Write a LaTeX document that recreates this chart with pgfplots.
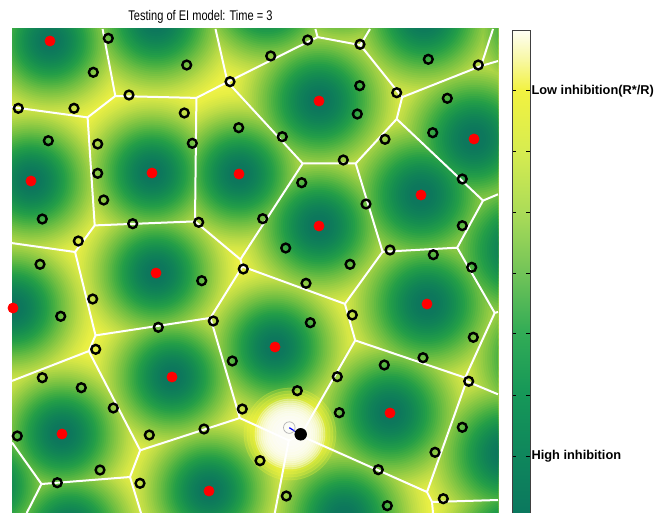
\documentclass[border=0pt]{standalone}
\usepackage{fontspec}
\setmainfont{Liberation Sans}
\usepackage{pgfplots}
\pgfplotsset{compat=1.18}
\usepackage{pgfplotstable}

\pgfplotsset{
  colormap={heat}{rgb255(0)=(12,117,93) rgb255(10)=(13,120,92) rgb255(18)=(16,129,88)
    rgb255(26)=(22,142,80) rgb255(34)=(36,158,72) rgb255(42)=(70,175,66)
    rgb255(50)=(112,191,66) rgb255(58)=(150,205,68) rgb255(66)=(185,218,70)
    rgb255(74)=(212,230,70) rgb255(82)=(232,239,68) rgb255(90)=(242,243,72)
    rgb255(100)=(247,247,90) rgb255(120)=(248,248,110)},
  colormap={cbar}{rgb255(0)=(11,120,94) rgb255(125)=(15,135,92) rgb255(250)=(22,152,88)
    rgb255(375)=(50,172,86) rgb255(500)=(115,196,88) rgb255(625)=(172,220,88)
    rgb255(750)=(215,236,80) rgb255(875)=(242,242,64) rgb255(940)=(248,248,165)
    rgb255(1000)=(255,255,245)},
}

% cell centres (visible ones first, then those lying just outside the frame);
% s = relative reach of each cell's inhibition
\pgfplotstableread{
x y s
50 41 1.0
319 101 1.08
474 139 1.12
31 181 1.0
152 173 1.0
239 174 1.0
421 195 1.12
319 226 1.05
156 273 1.0
13 308 1.0
427 304 1.1
275 347 1.0
172 377 1.0
390 413 1.08
62 434 1.0
209 491 1.0
156 21 1.05
267 -2 1.05
342 -22 1.0
424 17 1.08
545 25 1.1
70 530 1.0
-12 486 1.0
521 250 1.2
546 358 1.12
506 454 1.1
344 517 1.05
515 540 1.05
}\centers

\pgfplotstableread{
x y
50 41
319 101
474 139
31 181
152 173
239 174
421 195
319 226
156 273
13 308
427 304
275 347
172 377
390 413
62 434
209 491
}\reds

\pgfplotstableread{
x y
108.3 38.3
93.3 72.3
186.7 65
230 81.7
129 95
18.3 108.3
74 108.3
184.3 113
238.7 127.7
48.3 140.7
97.7 144
192.3 143.3
97.7 173.3
103.7 200
42.3 219
132.7 223.7
198.7 222.3
78.3 241
40 264.3
243.3 269
307.7 40
360 44.3
270.7 56
428.3 59.3
478.3 65
359.7 85.7
396.7 92.7
357.3 114
447.3 98.3
282.3 136.7
432.7 132.7
385 139.3
343.3 160
462.3 179
301.7 182.7
366 204
262.7 218.7
462.3 225.7
285.7 248
390 250
433.3 254.7
350 264.3
471.7 267.3
201.7 280.7
92.7 299
60.7 316.3
213.3 321
158.3 327.3
95.7 349.3
232.3 361
42.3 377.7
81.3 387.7
113.3 408
242.3 409
204 429
149.3 435
17.3 436
100 470
57.3 482.7
140 483.3
306 283.3
352.3 315
310.3 322.7
473.3 337.3
423 357.7
384.3 365
337.3 376.7
468.7 381.3
297.3 390.7
339.3 412.7
462.3 427.3
435 452.3
260 460.7
378.3 469.7
286.3 496
443.3 498.7
387.3 505.7
}\circles

\begin{document}
\begin{tikzpicture}
% ---------------- heat field (larger axis, clipped to the frame) -----------------
\begin{scope}
\clip (0,0) rectangle (243pt,242pt);
\begin{axis}[
  at={(-16pt,-18.5pt)}, anchor=south west,
  width=290pt, height=290pt, scale only axis,
  xmin=-20, xmax=560, ymin=-30, ymax=550, y dir=reverse,
  hide axis, clip marker paths=true,
  colormap name=heat, point meta min=0, point meta max=120,
]
\addplot[scatter, only marks, mark=*, mark size=150pt, point meta=120,
  scatter/use mapped color={draw=mapped color,fill=mapped color}] table[x=x,y=y] {\centers};
\pgfplotsinvokeforeach{120,118,...,2}{
  \addplot[scatter, only marks, mark=*, point meta=#1,
    visualization depends on={\thisrow{s}\as\sc},
    scatter/use mapped color={draw=mapped color,fill=mapped color},
    scatter/@pre marker code/.append style={/tikz/mark size={#1*\sc/2}}]
    table[x=x,y=y] {\centers};
}
% glow around the active cell
\pgfplotsinvokeforeach{23,21.5,20,18.5}{
  \addplot[only marks, mark=*, mark size=#1pt, color={rgb,255:red,246;green,246;blue,60},
    opacity=0.22] coordinates {(290,434)};
}
\pgfplotsinvokeforeach{17.5,16.5,15.5,14.5,13.5,12.5,11.5,10.5,9,7.5,6}{
  \addplot[only marks, mark=*, mark size=#1pt, color=white, opacity=0.26]
    coordinates {(290,434)};
}
\end{axis}
\end{scope}

% ---------------- overlay: edges, cells, colorbar -----------------
\begin{axis}[
  at={(0,0)}, anchor=south west,
  width=243pt, height=242pt, scale only axis,
  xmin=12, xmax=498, ymin=29, ymax=513, y dir=reverse,
  axis line style={draw=none}, xtick=\empty, ytick=\empty, clip=false,
  colormap name=cbar, point meta min=0, point meta max=100,
  colorbar,
  colorbar style={
    at={(parent axis.north east)}, anchor=north west, xshift=-1.54pt, yshift=-0.5pt,
    width=9pt, height=241.5pt, y dir=normal,
    ymin=0, ymax=100,
    ytick={11.8,24.4,37.1,49.6,62.2,74.8,87.4},
    yticklabels={High inhibition,,,,,,Low inhibition(R*/R)},
    yticklabel pos=right, ytick pos=both, tick align=inside,
    major tick length=2pt,
    tick style={black, line width=0.5pt},
    axis line style={black!75, line width=0.4pt},
    yticklabel style={font=\fontsize{6.4}{7.5}\selectfont\bfseries, inner sep=0.6pt},
  },
]
\addplot[white, line width=1pt, unbounded coords=jump, line join=round] coordinates {
 (12,107.1) (87.6,117.4) (115.3,96) (196.4,97.9) (195,221.4) (94.7,225.4) (87.6,117.4) (nan,nan)
 (115.3,96) (102.6,29) (nan,nan)
 (196.4,97.9) (227.5,82) (215.5,29) (nan,nan)
 (227.5,82) (317.6,37.1) (315.4,29) (nan,nan)
 (317.6,37.1) (360.4,45.1) (370,29) (nan,nan)
 (360.4,45.1) (402.1,97.2) (481,66) (493,29) (nan,nan)
 (481,66) (498,61) (nan,nan)
 (402.1,97.2) (396.7,119) (483,200.6) (498,194.3) (nan,nan)
 (396.7,119) (355.7,163.5) (302.7,163.5) (227.5,82) (nan,nan)
 (355.7,163.5) (382.6,251.8) (457.2,247.7) (483,200.6) (nan,nan)
 (457.2,247.7) (494.7,312.9) (498,312) (nan,nan)
 (302.7,163.5) (240.4,259.4) (195,221.4) (nan,nan)
 (240.4,259.4) (242.4,266.5) (344.9,303.9) (382.6,251.8) (nan,nan)
 (94.7,225.4) (75.1,252) (12,243.1) (nan,nan)
 (75.1,252) (95.5,335.4) (210.4,317.9) (242.4,266.5) (nan,nan)
 (95.5,335.4) (88.8,351.1) (12,380.9) (nan,nan)
 (88.8,351.1) (140.2,450.3) (239.8,418) (210.4,317.9) (nan,nan)
 (344.9,303.9) (355.2,340.4) (300.5,435.7) (288.8,440.4) (239.8,418) (nan,nan)
 (355.2,340.4) (465.2,377.7) (494.7,312.9) (nan,nan)
 (465.2,377.7) (466.5,381.2) (498,394.3) (nan,nan)
 (466.5,381.2) (427,492) (300.5,435.7) (nan,nan)
 (288.8,440.4) (274.8,513) (nan,nan)
 (140.2,450.3) (130,477) (41.5,484) (12,442.5) (nan,nan)
 (130,477) (141,513) (nan,nan)
 (41.5,484) (26.7,513) (nan,nan)
 (427,492) (432,502) (498,500) (nan,nan)
 (432,502) (433,513)
};
\addplot[only marks, mark=o, mark size=2.2pt, black, line width=1.2pt] table {\circles};
\addplot[only marks, mark=*, mark size=2.5pt, red] table {\reds};
\addplot[only marks, mark=o, mark size=2.9pt, gray!60, line width=0.35pt] coordinates {(289.3,427.6)};
\addplot[blue, line width=0.6pt] coordinates {(289.3,427.7) (298.3,433.3)};
\addplot[only marks, mark=*, mark size=2.9pt, black] coordinates {(300.7,434.3)};
\end{axis}

\node[font=\fontsize{7}{8}\selectfont] at (94.25pt,248pt) {\scalebox{0.79}[1]{Testing of EI model: Time = 3}};

\pgfresetboundingbox
\useasboundingbox (-6pt,0pt) rectangle (325.5pt,256.5pt);
\end{tikzpicture}
\end{document}
